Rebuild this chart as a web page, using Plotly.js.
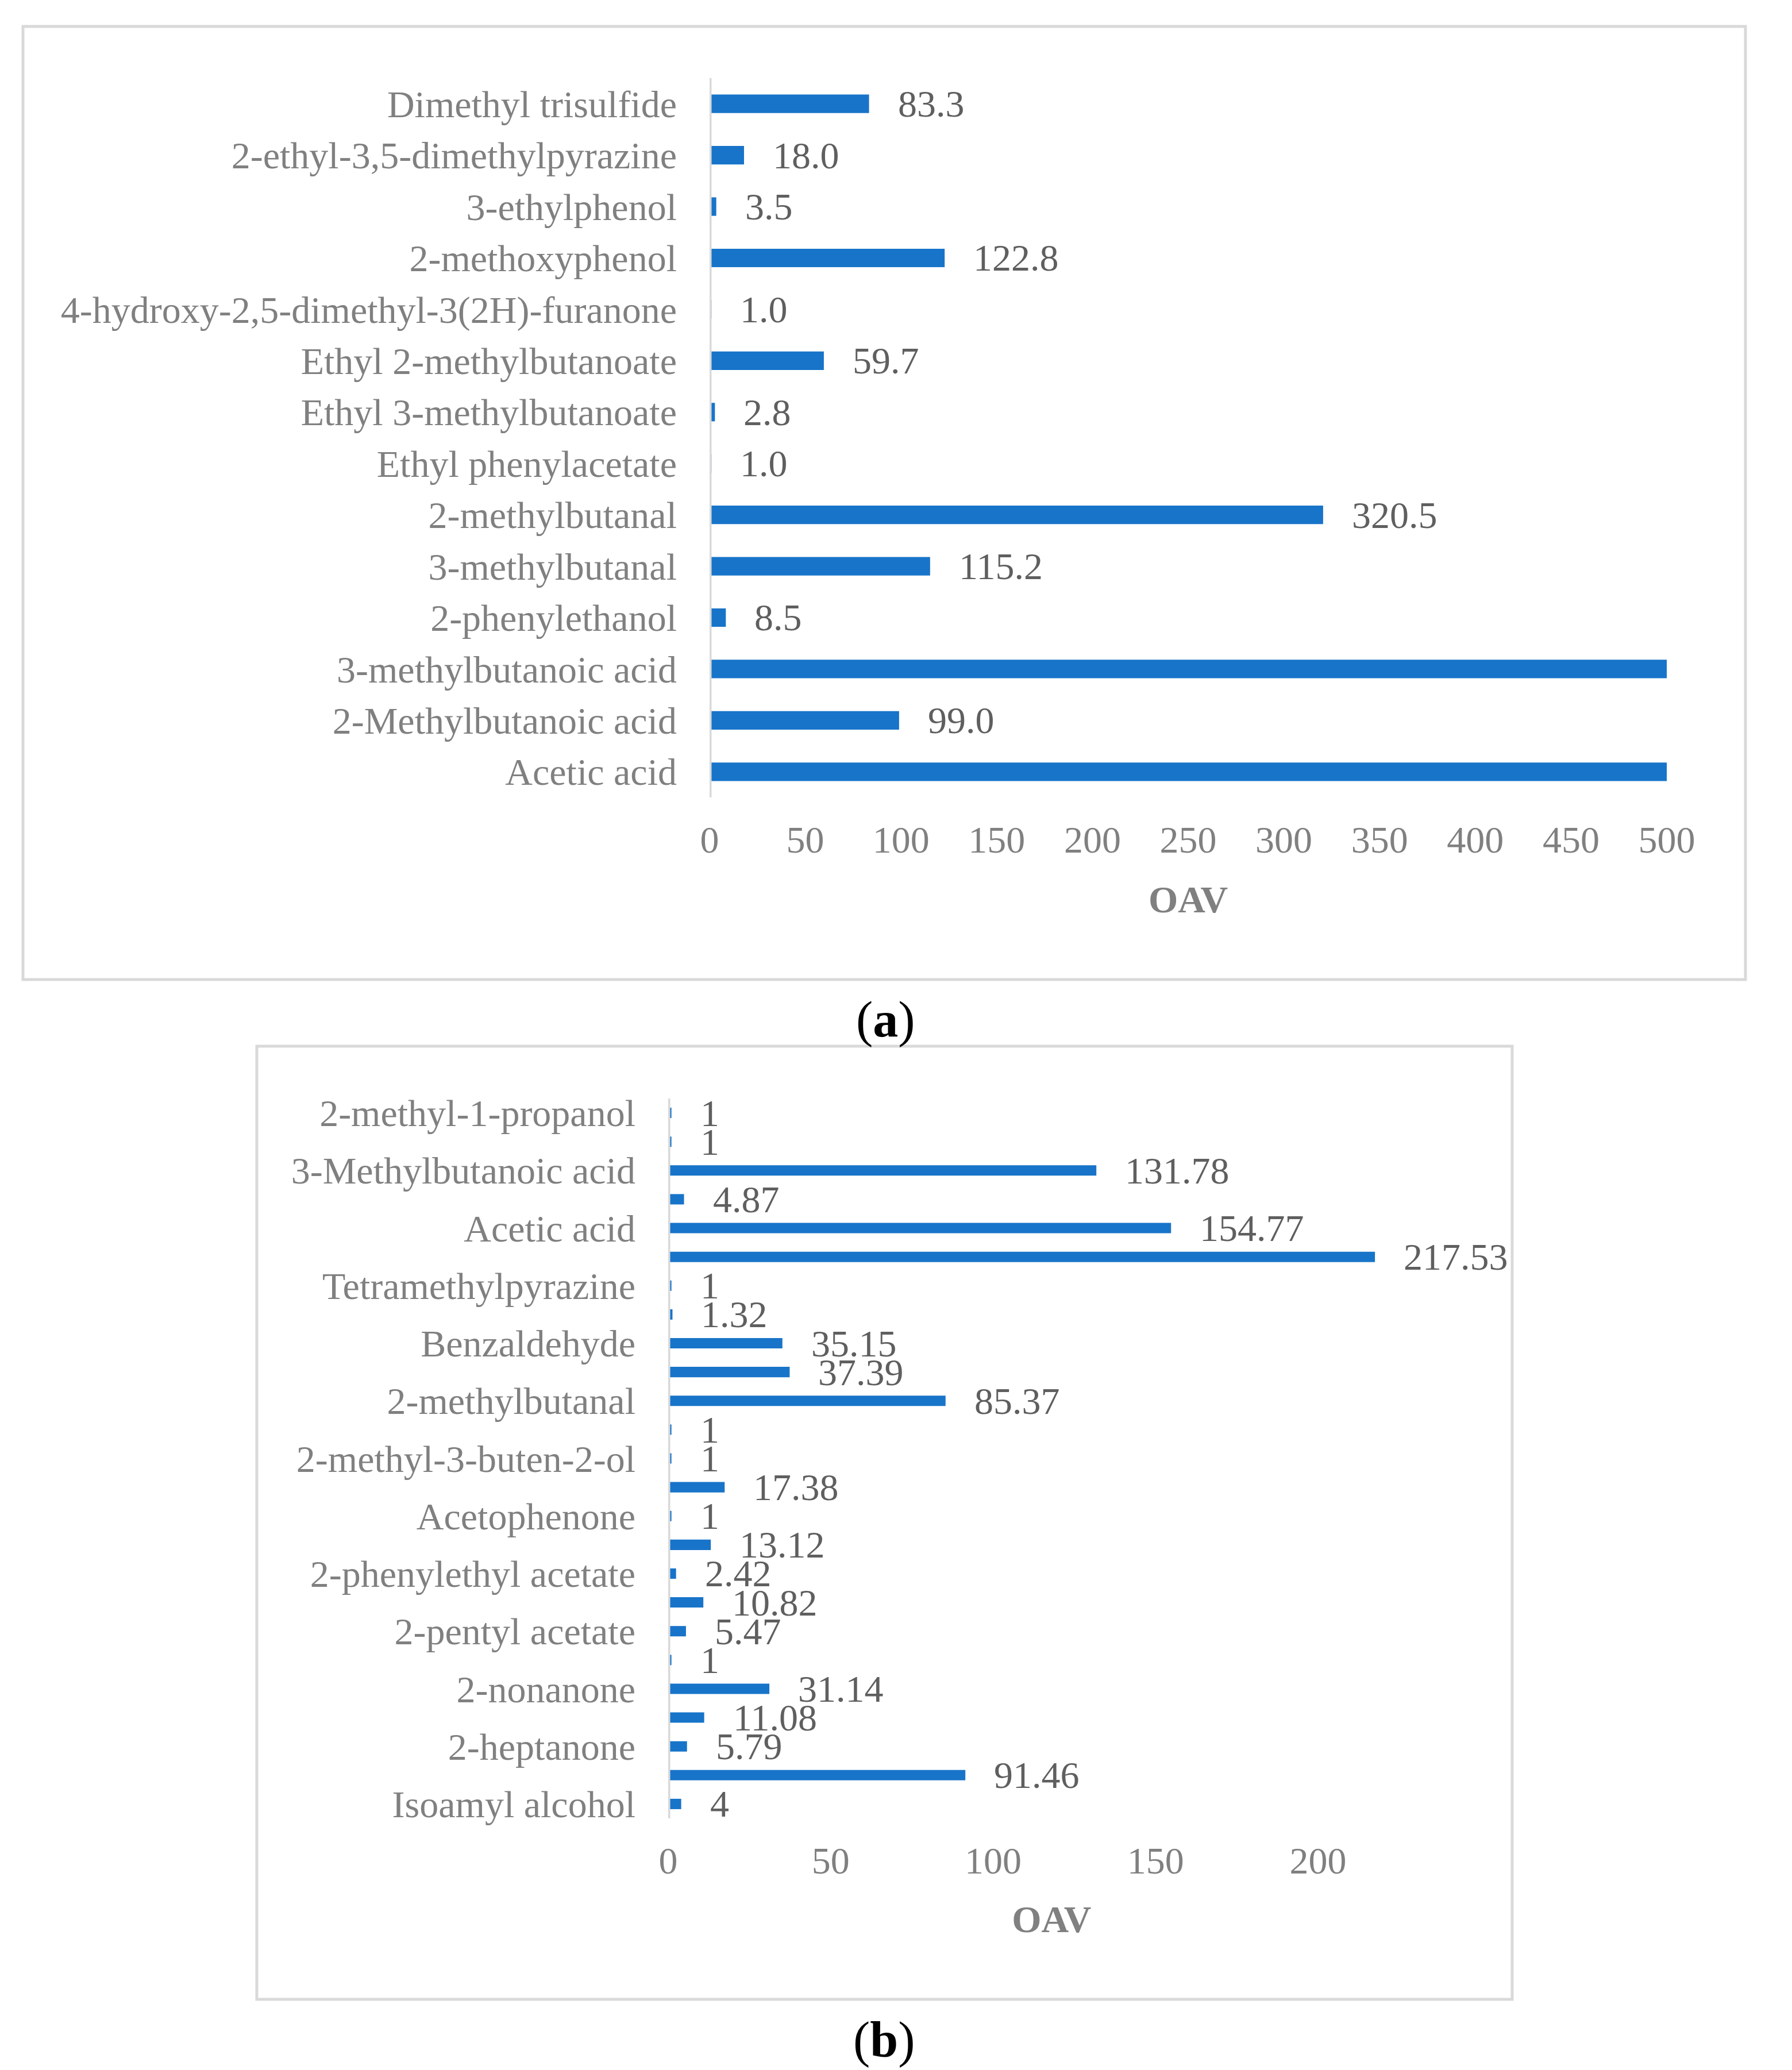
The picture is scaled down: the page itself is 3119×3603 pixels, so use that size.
<!DOCTYPE html>
<html>
<head>
<meta charset="utf-8">
<script src="https://cdn.plot.ly/plotly-3.0.1.min.js"></script>
<style>html,body{margin:0;padding:0;background:#fff;}#chart{width:3119px;height:3603px;}</style>
</head>
<body>
<div id="chart"></div>
<script>
// ---------- Panel (a) data (listed bottom to top) ----------
const categoriesA = [
  'Acetic acid',
  '2-Methylbutanoic acid',
  '3-methylbutanoic acid',
  '2-phenylethanol',
  '3-methylbutanal',
  '2-methylbutanal',
  'Ethyl phenylacetate',
  'Ethyl 3-methylbutanoate',
  'Ethyl 2-methylbutanoate',
  '4-hydroxy-2,5-dimethyl-3(2H)-furanone',
  '2-methoxyphenol',
  '3-ethylphenol',
  '2-ethyl-3,5-dimethylpyrazine',
  'Dimethyl trisulfide'
];
// Acetic acid and 3-methylbutanoic acid run off the 500 axis; their values are not printed.
const oavA = [500, 99.0, 500, 8.5, 115.2, 320.5, 1.0, 2.8, 59.7, 1.0, 122.8, 3.5, 18.0, 83.3];
const labelA = [null, '99.0', null, '8.5', '115.2', '320.5', '1.0', '2.8', '59.7', '1.0', '122.8', '3.5', '18.0', '83.3'];
const ticksA = [0, 50, 100, 150, 200, 250, 300, 350, 400, 450, 500];

// ---------- Panel (b) data (listed bottom to top; '' = bar without a category label) ----------
const categoriesB = [
  'Isoamyl alcohol', '',
  '2-heptanone', '',
  '2-nonanone', '',
  '2-pentyl acetate', '',
  '2-phenylethyl acetate', '',
  'Acetophenone', '',
  '2-methyl-3-buten-2-ol', '',
  '2-methylbutanal', '',
  'Benzaldehyde', '',
  'Tetramethylpyrazine', '',
  'Acetic acid', '',
  '3-Methylbutanoic acid', '',
  '2-methyl-1-propanol'
];
const oavB = [4, 91.46, 5.79, 11.08, 31.14, 1, 5.47, 10.82, 2.42, 13.12, 1, 17.38, 1, 1, 85.37, 37.39, 35.15, 1.32, 1, 217.53, 154.77, 4.87, 131.78, 1, 1];
const labelB = ['4', '91.46', '5.79', '11.08', '31.14', '1', '5.47', '10.82', '2.42', '13.12', '1', '17.38', '1', '1', '85.37', '37.39', '35.15', '1.32', '1', '217.53', '154.77', '4.87', '131.78', '1', '1'];
const ticksB = [0, 50, 100, 150, 200];

// ---------- styling ----------
const W = 3119, H = 3603;
const px = v => v / W;
const py = v => 1 - v / H;
const FONT = 'Liberation Serif, Times New Roman, serif';
const BLUE = '#1874c9';
const AXGREY = '#808080';
const LBLGREY = '#5f5f5f';
const FRAME = '#d9d9d9';
const FS = 66;

const idxB = oavB.map((_, i) => i);

const traceA = {
  type: 'bar', orientation: 'h',
  x: oavA, y: categoriesA,
  xaxis: 'x', yaxis: 'y',
  marker: {color: BLUE, line: {width: 0}},
  width: 0.36,
  hoverinfo: 'x+y'
};
const traceB = {
  type: 'bar', orientation: 'h',
  x: oavB, y: idxB,
  xaxis: 'x2', yaxis: 'y2',
  marker: {color: BLUE, line: {width: 0}},
  width: 0.36,
  hoverinfo: 'x'
};

const annotations = [];
oavA.forEach((v, i) => {
  if (labelA[i] === null) return;
  annotations.push({
    xref: 'x', yref: 'y', x: v, y: categoriesA[i],
    text: labelA[i], showarrow: false, xanchor: 'left', yanchor: 'middle',
    xshift: 48, font: {family: FONT, size: FS, color: LBLGREY}
  });
});
oavB.forEach((v, i) => {
  annotations.push({
    xref: 'x2', yref: 'y2', x: v, y: idxB[i],
    text: labelB[i], showarrow: false, xanchor: 'left', yanchor: 'middle',
    xshift: 48, font: {family: FONT, size: FS, color: LBLGREY}
  });
});
// panel captions
annotations.push({xref: 'paper', yref: 'paper', x: px(1541), y: py(1774), text: '(<b>a</b>)',
  showarrow: false, xanchor: 'center', yanchor: 'middle', font: {family: FONT, size: 88, color: '#000'}});
annotations.push({xref: 'paper', yref: 'paper', x: px(1539), y: py(3550), text: '(<b>b</b>)',
  showarrow: false, xanchor: 'center', yanchor: 'middle', font: {family: FONT, size: 88, color: '#000'}});

const shapes = [
  // panel frames
  {type: 'rect', xref: 'paper', yref: 'paper', x0: px(40), x1: px(3038), y0: py(46), y1: py(1705),
   line: {color: FRAME, width: 5}, fillcolor: 'rgba(0,0,0,0)', layer: 'below'},
  {type: 'rect', xref: 'paper', yref: 'paper', x0: px(447), x1: px(2632), y0: py(1821), y1: py(3480),
   line: {color: FRAME, width: 5}, fillcolor: 'rgba(0,0,0,0)', layer: 'below'},
  // vertical category axis lines at x = 0
  {type: 'line', xref: 'x', yref: 'y domain', x0: 0, x1: 0, y0: 0, y1: 1,
   line: {color: FRAME, width: 7}, layer: 'above'},
  {type: 'line', xref: 'x2', yref: 'y2 domain', x0: 0, x1: 0, y0: 0, y1: 1,
   line: {color: FRAME, width: 7}, layer: 'above'}
];

const xTickFont = {family: FONT, size: FS, color: AXGREY};
const titleFont = {family: FONT, size: FS, color: AXGREY, weight: 'bold'};

const layout = {
  width: W, height: H, autosize: false,
  margin: {l: 0, r: 0, t: 0, b: 0, pad: 0},
  paper_bgcolor: '#fff', plot_bgcolor: 'rgba(0,0,0,0)',
  font: {family: FONT, size: FS, color: AXGREY},
  showlegend: false,
  xaxis: {
    domain: [px(1235), px(2901)], anchor: 'y',
    range: [0, 500], tickmode: 'array', tickvals: ticksA,
    showgrid: false, zeroline: false, showline: false, ticks: '',
    ticklabelstandoff: 29, tickfont: xTickFont,
    title: {text: '<b>OAV</b>', font: titleFont, standoff: 44}
  },
  yaxis: {
    domain: [py(1388), py(136)], anchor: 'x',
    type: 'category', categoryorder: 'array', categoryarray: categoriesA,
    range: [-0.5, categoriesA.length - 0.5],
    showgrid: false, zeroline: false, showline: false, ticks: '',
    ticklabelstandoff: 56, tickfont: {family: FONT, size: FS, color: AXGREY}
  },
  xaxis2: {
    domain: [px(1163), px(1163 + 236 * 5.655)], anchor: 'y2',
    range: [0, 236], tickmode: 'array', tickvals: ticksB,
    showgrid: false, zeroline: false, showline: false, ticks: '',
    ticklabelstandoff: 29, tickfont: xTickFont,
    title: {text: '<b>OAV</b>', font: titleFont, standoff: 42}
  },
  yaxis2: {
    domain: [py(3165), py(1912)], anchor: 'x2',
    range: [-0.5, categoriesB.length - 0.5],
    tickmode: 'array',
    tickvals: idxB.filter(i => categoriesB[i] !== ''),
    ticktext: categoriesB.filter(c => c !== ''),
    showgrid: false, zeroline: false, showline: false, ticks: '',
    ticklabelstandoff: 56, tickfont: {family: FONT, size: FS, color: AXGREY}
  },
  annotations: annotations,
  shapes: shapes
};

Plotly.newPlot('chart', [traceA, traceB], layout, {displayModeBar: false, staticPlot: true});
</script>
</body>
</html>
